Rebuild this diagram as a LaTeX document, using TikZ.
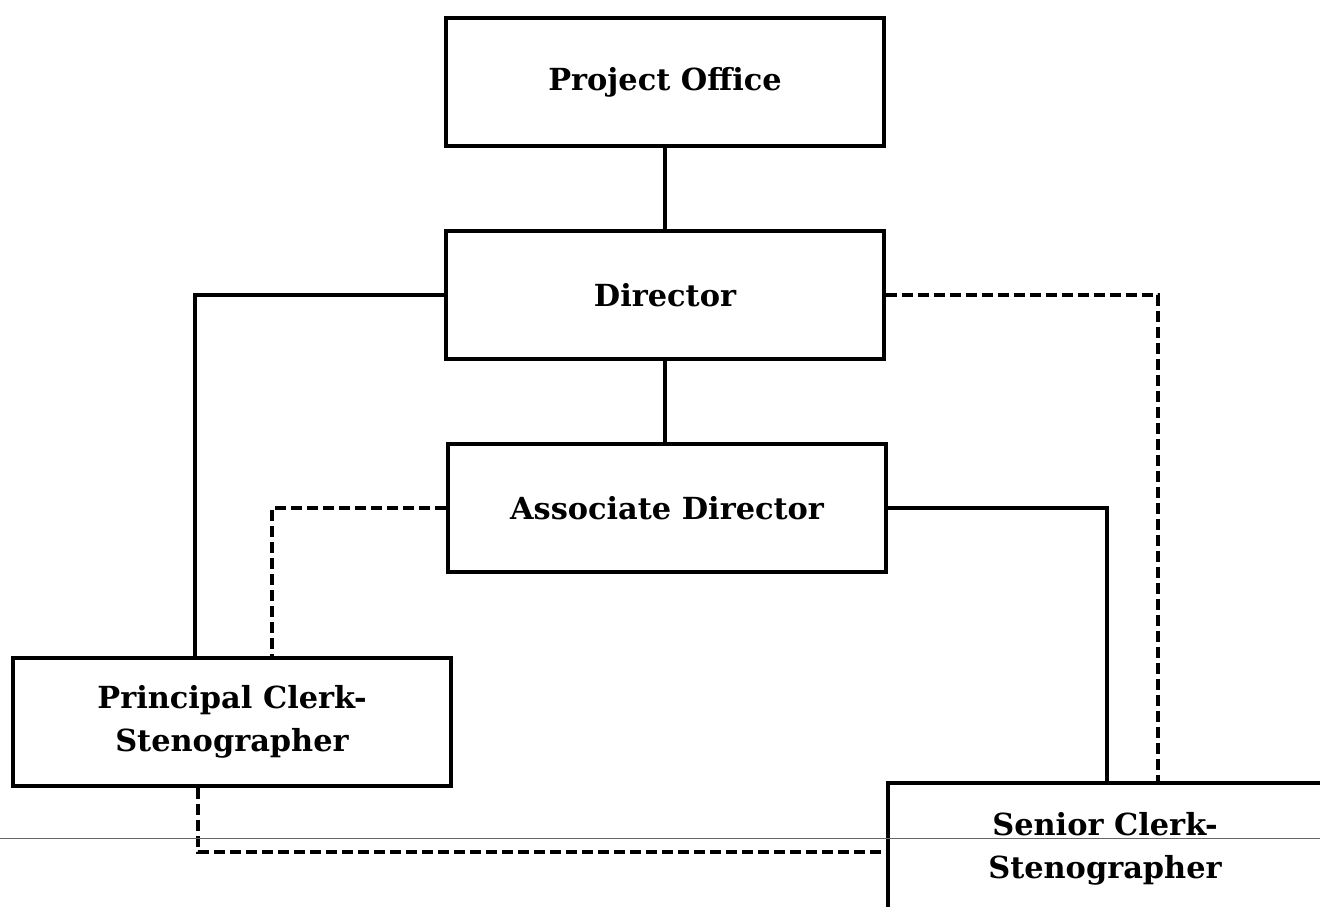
\documentclass[tikz,border=0pt]{standalone}
\usepackage{fontspec}
\setmainfont{DejaVu Serif}
\begin{document}
\begin{tikzpicture}[x=0.5pt,y=-0.5pt,
  box/.style={draw,line width=1.6pt,minimum width=219pt,minimum height=64pt,inner sep=0pt,align=center,font=\fontsize{15.2}{21.5}\selectfont\bfseries},
  solidln/.style={line width=1.6pt},
  dashln/.style={line width=1.6pt,dash pattern=on 5.5pt off 2.5pt}]
\clip (0,0) rectangle (1320,906);
\fill[white] (0,0) rectangle (1320,906);
\node[box] (po) at (665,82) {Project Office};
\node[box] (dir) at (665,295) {Director};
\node[box] (ad) at (667,508) {Associate Director};
\node[box] (pc) at (232,722) {Principal Clerk-\\Stenographer};
\node[box,minimum width=217pt,minimum height=66pt] (sc) at (1105,849) {Senior Clerk-\\Stenographer};
\draw[solidln] (po) -- (dir);
\draw[solidln] (dir.south) -- (dir.south |- ad.north);
\draw[solidln] (dir.west) -| ([xshift=-18.5pt]pc.north);
\draw[dashln] (ad.west) -| ([xshift=20pt]pc.north);
\draw[solidln] (ad.east) -| ([xshift=1pt]sc.north);
\draw[dashln] (dir.east) -| ([xshift=26.5pt]sc.north);
\draw[dashln] ([xshift=-17pt]pc.south) |- ([yshift=-1.5pt]sc.west);
\coordinate (fl) at (0,838);
\coordinate (fr) at (1320,838);
\draw[line width=0.5pt,black!60] (fl) -- (fr);
\end{tikzpicture}
\end{document}
